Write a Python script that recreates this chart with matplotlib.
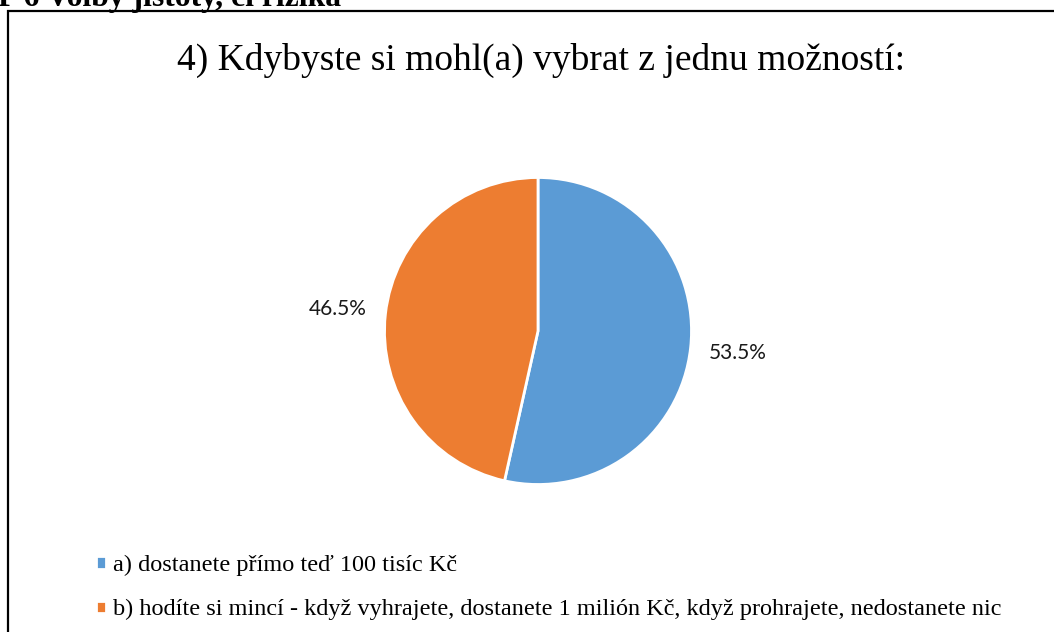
import matplotlib.pyplot as plt
from matplotlib.patches import Rectangle

# Data
labels = ["a) dostanete přímo teď 100 tisíc Kč",
          "b) hodíte si mincí - když vyhrajete, dostanete 1 milión Kč, když prohrajete, nedostanete nic"]
values = [53.5, 46.5]
colors = ["#5B9BD5", "#ED7D31"]
title = "4) Kdybyste si mohl(a) vybrat z jednu možností:"
header = "P 6 Volby jistoty, či rizika"

W, H = 1054, 632
fig = plt.figure(figsize=(W / 100, H / 100), dpi=100)

# frame of the chart (right and bottom edges are outside the picture)
fig.patches.append(Rectangle((8 / W, -0.1), 1.2, 1 - 11 / H + 0.1, transform=fig.transFigure,
                             fill=False, edgecolor="black", linewidth=1.6))

# cut-off heading above the chart
fig.text(-2 / W, 1 - 6 / H, header, family="Liberation Serif", fontweight="bold",
         fontsize=22.8, va="baseline", ha="left")

fig.text(541 / W, 1 - 60 / H, title, family="Liberation Serif", fontsize=27,
         ha="center", va="center")

# pie axes, radius ~153 px around (538, 331)
r = 153.5
cx, cy = 538, H - 331
span = 1.35
ax = fig.add_axes([(cx - r * span) / W, (cy - r * span) / H, 2 * r * span / W, 2 * r * span / H])
wedges, texts, autotexts = ax.pie(values, colors=colors, startangle=90, counterclock=False,
                                  autopct="%.1f%%", pctdistance=1.31,
                                  wedgeprops=dict(edgecolor="white", linewidth=2),
                                  textprops=dict(family="Lato", fontsize=15, color="#1a1a1a"))
ax.set_xlim(-span, span)
ax.set_ylim(-span, span)
ax.set_aspect("equal")
ax.axis("off")

fig.legend(wedges, labels, loc="upper left", bbox_to_anchor=(74 / W, 1 - 533 / H),
           frameon=False, prop=dict(family="Liberation Serif", size=17.5),
           handlelength=0.4, handleheight=0.4, handletextpad=0.3, labelspacing=0.95)

fig.savefig("out.png", dpi=100)
